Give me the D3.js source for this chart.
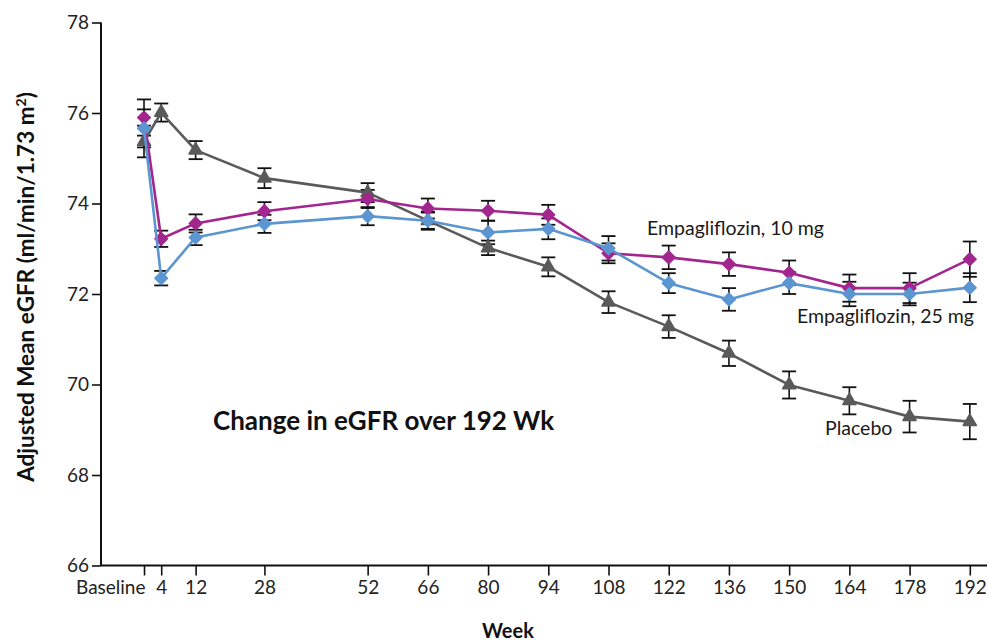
<!DOCTYPE html>
<html>
<head>
<meta charset="utf-8">
<script src="https://cdn.jsdelivr.net/npm/d3@7"></script>
<style>
  html, body { margin: 0; padding: 0; background: #fff; }
  svg { display: block; font-family: Lato, "Open Sans", sans-serif; }
</style>
</head>
<body>
<svg id="chart" width="988" height="641"></svg>
<script>
// Study visits (weeks) and adjusted mean eGFR with standard errors
const weeks = [0, 4, 12, 28, 52, 66, 80, 94, 108, 122, 136, 150, 164, 178, 192];
const weekLabels = ["Baseline", "4", "12", "28", "52", "66", "80", "94", "108", "122", "136", "150", "164", "178", "192"];

const emp10    = [75.90, 73.22, 73.56, 73.83, 74.10, 73.89, 73.84, 73.75, 72.90, 72.81, 72.66, 72.47, 72.13, 72.13, 72.77];
const emp10Err = [0.40, 0.18, 0.20, 0.20, 0.20, 0.22, 0.22, 0.22, 0.22, 0.26, 0.26, 0.27, 0.30, 0.33, 0.39];

const emp25    = [75.66, 72.35, 73.25, 73.55, 73.72, 73.62, 73.36, 73.44, 73.01, 72.24, 71.88, 72.24, 72.00, 72.00, 72.14];
const emp25Err = [0.42, 0.16, 0.17, 0.20, 0.20, 0.18, 0.26, 0.23, 0.27, 0.22, 0.25, 0.24, 0.27, 0.25, 0.32];

const placebo    = [75.37, 76.01, 75.18, 74.56, 74.24, 73.62, 73.02, 72.60, 71.82, 71.28, 70.69, 69.99, 69.64, 69.29, 69.18];
const placeboErr = [0.35, 0.20, 0.20, 0.22, 0.21, 0.20, 0.16, 0.21, 0.24, 0.25, 0.28, 0.30, 0.30, 0.35, 0.39];

const yTicks = [66, 68, 70, 72, 74, 76, 78];

const series = [
  { name: "Placebo",             values: placebo, errors: placeboErr, color: "#5a5a5a", marker: "triangle" },
  { name: "Empagliflozin, 10 mg", values: emp10,   errors: emp10Err,   color: "#a3268f", marker: "diamond" },
  { name: "Empagliflozin, 25 mg", values: emp25,   errors: emp25Err,   color: "#5b95d2", marker: "diamond" }
];

const svg = d3.select("#chart");

const x = d3.scaleLinear().domain([-10, 196]).range([101, 987]);
const y = d3.scaleLinear().domain([66, 78]).range([565.5, 22.5]);

// Axes
const yAxis = d3.axisLeft(y).tickValues(yTicks).tickSize(9).tickPadding(3).tickSizeOuter(0);
const gy = svg.append("g").attr("transform", `translate(${x(-10)},0)`).call(yAxis);
gy.select(".domain").attr("stroke", "#111").attr("stroke-width", 2).attr("d", `M0,${y(78)}V${y(66)}`);
gy.selectAll(".tick line").attr("stroke", "#111").attr("stroke-width", 1.6);
gy.selectAll(".tick text").attr("font-size", 19).attr("fill", "#222").attr("font-family", "Lato, sans-serif");

const xAxis = d3.axisBottom(x).tickValues(weeks).tickFormat((d, i) => weekLabels[i]).tickSize(10).tickPadding(5).tickSizeOuter(0);
const gx = svg.append("g").attr("transform", `translate(0,${y(66)})`).call(xAxis);
gx.select(".domain").attr("stroke", "#111").attr("stroke-width", 2).attr("d", `M${x(-10)},0H${x(196)}`);
gx.selectAll(".tick line").attr("stroke", "#111").attr("stroke-width", 1.6);
gx.selectAll(".tick text").attr("font-size", 19).attr("fill", "#222").attr("font-family", "Lato, sans-serif");
gx.selectAll(".tick text").filter((d, i) => i === 0).attr("text-anchor", "end").attr("dx", 1);

// Axis titles
svg.append("text")
  .attr("transform", `translate(34,287) rotate(-90)`)
  .attr("text-anchor", "middle")
  .attr("font-size", 22.5).attr("font-weight", "bold").attr("fill", "#111")
  .html('Adjusted Mean eGFR (ml/min/1.73 m<tspan baseline-shift="super" font-size="14">2</tspan>)');

svg.append("text")
  .attr("x", 508).attr("y", 638)
  .attr("text-anchor", "middle")
  .attr("font-size", 20).attr("font-weight", "bold").attr("fill", "#111")
  .text("Week");

// Panel title
svg.append("text")
  .attr("x", 213).attr("y", 430)
  .attr("font-size", 26).attr("font-weight", "bold").attr("fill", "#111")
  .text("Change in eGFR over 192 Wk");

const line = d3.line().x((d, i) => x(weeks[i])).y(d => y(d));

// Error bars first, then lines and markers on top
series.forEach(s => {
  const g = svg.append("g").attr("class", "errbars");
  s.values.forEach((v, i) => {
    const cx = x(weeks[i]);
    const y1 = y(v + s.errors[i]);
    const y2 = y(v - s.errors[i]);
    g.append("line").attr("x1", cx).attr("x2", cx).attr("y1", y1).attr("y2", y2)
      .attr("stroke", "#111").attr("stroke-width", 1.6);
    [y1, y2].forEach(yy => g.append("line")
      .attr("x1", cx - 7).attr("x2", cx + 7).attr("y1", yy).attr("y2", yy)
      .attr("stroke", "#111").attr("stroke-width", 1.8));
  });
});

const triangle = d3.symbol().type(d3.symbolTriangle).size(75);
const diamond = d3.symbol().type(d3.symbolSquare).size(80);

series.forEach(s => {
  svg.append("path").datum(s.values)
    .attr("d", line)
    .attr("fill", "none")
    .attr("stroke", s.color)
    .attr("stroke-width", 2.6)
    .attr("stroke-linejoin", "round");
  svg.append("g").selectAll("path").data(s.values).join("path")
    .attr("transform", (d, i) => s.marker === "diamond"
      ? `translate(${x(weeks[i])},${y(d)}) rotate(45)`
      : `translate(${x(weeks[i])},${y(d)})`)
    .attr("d", s.marker === "diamond" ? diamond : triangle)
    .attr("fill", s.color)
    .attr("stroke", s.color)
    .attr("stroke-width", 1.5)
    .attr("stroke-linejoin", "round");
});

// Series labels
const labelStyle = sel => sel.attr("font-size", 19.5).attr("fill", "#1a1a1a");
svg.append("text").attr("x", 647).attr("y", 235).text("Empagliflozin, 10 mg").call(labelStyle);
svg.append("text").attr("x", 797).attr("y", 323).text("Empagliflozin, 25 mg").call(labelStyle);
svg.append("text").attr("x", 825).attr("y", 435).text("Placebo").call(labelStyle);
</script>
</body>
</html>
